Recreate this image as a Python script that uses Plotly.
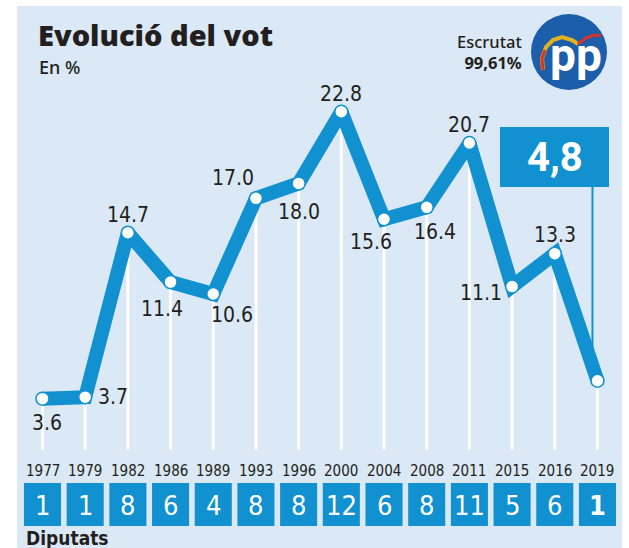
import plotly.graph_objects as go

# ---- data ----
years = ["1977", "1979", "1982", "1986", "1989", "1993", "1996", "2000",
         "2004", "2008", "2011", "2015", "2016", "2019"]
vote_pct = [3.6, 3.7, 14.7, 11.4, 10.6, 17.0, 18.0, 22.8, 15.6, 16.4, 20.7, 11.1, 13.3, 4.8]
seats = [1, 1, 8, 6, 4, 8, 8, 12, 6, 8, 11, 5, 6, 1]
latest_label = "4,8"
scrutiny = "99,61%"

# ---- style ----
W, H = 629, 548
BG = "#dbe8f5"
BLUE = "#1191d0"
DARK = "#231f20"
NARROW = "Liberation Sans Narrow, Arial Narrow, DejaVu Sans Condensed, sans-serif"

def px(x):
    return x / W

def py(y):
    return 1 - y / H

n = len(years)
idx = list(range(n))

# label offsets (pixels) per point: (dx, dy) with dy positive downward
label_off = [(4, 24), (28, 0), (0, -18), (-9, 27), (19, 21), (-23, -20), (0, 29),
             (0, -18), (-13, 23), (8, 25), (0, -18), (-31, 6), (0, -19), None]

fig = go.Figure()

# drop lines
dx_, dy_ = [], []
for i, v in zip(idx, vote_pct):
    dx_ += [i, i, None]
    dy_ += [v, 0.2, None]
fig.add_trace(go.Scatter(x=dx_, y=dy_, mode="lines",
                         line=dict(color="white", width=3),
                         hoverinfo="skip", showlegend=False))

# main line
fig.add_trace(go.Scatter(x=idx, y=vote_pct, mode="lines+markers",
                         line=dict(color=BLUE, width=14),
                         marker=dict(color="white", size=13,
                                     line=dict(color=BLUE, width=1.5)),
                         showlegend=False))

shapes = []
# panel background
shapes.append(dict(type="rect", xref="paper", yref="paper",
                   x0=px(17), x1=px(622), y0=0, y1=py(6),
                   fillcolor=BG, line=dict(width=0), layer="below"))
# connector from 4,8 box
shapes.append(dict(type="line", xref="x", yref="paper",
                   x0=n - 1 - 5 / 42.69, x1=n - 1 - 5 / 42.69,
                   y0=py(187), y1=py(360),
                   line=dict(color=BLUE, width=2), layer="below"))
# 4,8 box
shapes.append(dict(type="rect", xref="paper", yref="paper",
                   x0=px(500), x1=px(609), y0=py(187), y1=py(127),
                   fillcolor=BLUE, line=dict(width=0)))
# seat boxes
for i in idx:
    shapes.append(dict(type="rect", xref="x", yref="paper",
                       x0=i - 0.434, x1=i + 0.434, y0=py(526), y1=py(483),
                       fillcolor=BLUE, line=dict(width=0)))
# PP logo circle
shapes.append(dict(type="circle", xref="paper", yref="paper",
                   x0=px(531), x1=px(607), y0=py(90), y1=py(14),
                   fillcolor="#1c5ea9", line=dict(width=0)))

def path(points):
    s = "M %f %f" % (px(points[0][0]), py(points[0][1]))
    for (a, b) in points[1:]:
        s += " L %f %f" % (px(a), py(b))
    return s

# logo wing (approximate)
shapes.append(dict(type="path", xref="paper", yref="paper",
                   path=path([(543, 70), (542, 58), (546, 47), (553, 40), (562, 37),
                              (572, 40), (578, 44)]),
                   line=dict(color="#e2b31f", width=4)))
shapes.append(dict(type="path", xref="paper", yref="paper",
                   path=path([(578, 44), (586, 38), (594, 35), (601, 36)]),
                   line=dict(color="#d8332a", width=3)))
shapes.append(dict(type="path", xref="paper", yref="paper",
                   path=path([(543, 70), (542, 58), (545, 50)]),
                   line=dict(color="#d8332a", width=3)))

annotations = []
# value labels
for i, v, off in zip(idx, vote_pct, label_off):
    if off is None:
        continue
    annotations.append(dict(x=i, y=v, xref="x", yref="y", text=f"{v:.1f}",
                            showarrow=False, xshift=off[0], yshift=-off[1],
                            xanchor="center", yanchor="middle",
                            font=dict(family=NARROW, size=21, color=DARK)))
# year labels and seat numbers
for i, yr, s in zip(idx, years, seats):
    annotations.append(dict(x=i, y=py(471), xref="x", yref="paper", text=yr,
                            showarrow=False, xanchor="center", yanchor="middle",
                            font=dict(family=NARROW, size=15, color=DARK)))
    txt = f"<b>{s}</b>" if i == n - 1 else str(s)
    annotations.append(dict(x=i, y=py(505), xref="x", yref="paper", text=txt,
                            showarrow=False, xanchor="center", yanchor="middle",
                            font=dict(family=NARROW, size=27, color="white")))

annotations += [
    dict(x=px(36), y=py(35), xref="paper", yref="paper", text="Evolució del vot",
         showarrow=False, xanchor="left", yanchor="middle",
         font=dict(family="Open Sans", size=29, color=DARK, weight=800)),
    dict(x=px(37), y=py(67), xref="paper", yref="paper", text="En %",
         showarrow=False, xanchor="left", yanchor="middle",
         font=dict(family="Noto Sans", size=18, color=DARK, weight=500)),
    dict(x=px(524), y=py(52), xref="paper", yref="paper",
         text=f"Escrutat<br><b>{scrutiny}</b>", align="right",
         showarrow=False, xanchor="right", yanchor="middle",
         font=dict(family="Noto Sans", size=16.5, color=DARK, weight=500)),
    dict(x=px(576), y=py(55), xref="paper", yref="paper", text="<b>pp</b>",
         showarrow=False, xanchor="center", yanchor="middle",
         font=dict(family="Roboto", size=46, color="white")),
    dict(x=px(554.5), y=py(157), xref="paper", yref="paper", text=f"<b>{latest_label}</b>",
         showarrow=False, xanchor="center", yanchor="middle",
         font=dict(family="Roboto", size=40, color="white")),
    dict(x=px(24), y=py(538), xref="paper", yref="paper", text="<b>Diputats</b>",
         showarrow=False, xanchor="left", yanchor="middle",
         font=dict(family=NARROW, size=19, color=DARK)),
]

sp = 42.69
r0 = -42.5 / sp
r1 = r0 + W / sp
zero_px = 452.5
slope = 14.95
fig.update_layout(
    width=W, height=H,
    margin=dict(l=0, r=0, t=0, b=0),
    paper_bgcolor="white", plot_bgcolor="rgba(0,0,0,0)",
    xaxis=dict(range=[r0, r1], visible=False, fixedrange=True),
    yaxis=dict(range=[-(H - zero_px) / slope, zero_px / slope], visible=False, fixedrange=True),
    shapes=shapes, annotations=annotations,
    showlegend=False,
)

fig.write_html("out.html", config={"displayModeBar": False},
               post_script="document.body.style.margin='0px';document.body.style.overflow='hidden';")
